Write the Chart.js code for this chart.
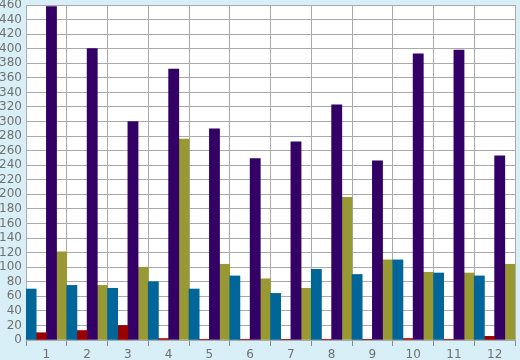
<!DOCTYPE html>
<html>
<head>
<meta charset="utf-8">
<script src="https://cdn.jsdelivr.net/npm/chart.js@4/dist/chart.umd.min.js"></script>
<style>
  html, body { margin: 0; padding: 0; background: #d9eff7; }
  #wrap { width: 520px; height: 360px; }
</style>
</head>
<body>
<div id="wrap"><canvas id="c" width="520" height="360"></canvas></div>
<script>
const categories = ["1","2","3","4","5","6","7","8","9","10","11","12"];
const seriesBlue   = [70, 75, 71, 80, 70, 88, 64, 97, 90, 110, 92, 88];
const seriesRed    = [10, 13, 20, 2, 1, 1, 1, 1, 1, 2, 1, 5];
const seriesPurple = [458, 400, 300, 372, 290, 249, 272, 323, 246, 393, 398, 253];
const seriesOlive  = [121, 75, 100, 276, 104, 84, 71, 196, 110, 93, 92, 104];
const yMin = 0, yMax = 460, yStep = 20;

const plotBg = {
  id: 'plotBg',
  beforeDraw(chart) {
    const {ctx, chartArea: a} = chart;
    ctx.save();
    ctx.fillStyle = '#ffffff';
    ctx.fillRect(a.left, a.top, a.right - a.left, a.bottom - a.top);
    ctx.restore();
  }
};

Chart.defaults.font.family = '"DejaVu Sans", Verdana, sans-serif';
Chart.defaults.font.size = 12;
Chart.defaults.color = '#707070';

new Chart(document.getElementById('c'), {
  type: 'bar',
  data: {
    labels: categories,
    datasets: [
      { data: seriesBlue, backgroundColor: '#006699' },
      { data: seriesRed, backgroundColor: '#990000' },
      { data: seriesPurple, backgroundColor: '#330066' },
      { data: seriesOlive, backgroundColor: '#999933' }
    ]
  },
  options: {
    responsive: false,
    animation: false,
    events: [],
    layout: { padding: { top: 5, right: 5, left: 0, bottom: 0 } },
    datasets: { bar: { categoryPercentage: 1, barPercentage: 1, borderWidth: 0 } },
    plugins: { legend: { display: false }, tooltip: { enabled: false }, title: { display: false } },
    scales: {
      x: {
        grid: { color: '#aaaaaa', lineWidth: 1, offset: true, drawTicks: true, tickLength: 6, tickColor: '#888888' },
        border: { color: '#aaaaaa' },
        ticks: { padding: 2, color: '#707070', maxRotation: 0 },
        afterFit(s) { s.height = 20; }
      },
      y: {
        min: yMin, max: yMax,
        grid: { color: '#aaaaaa', lineWidth: 1, drawTicks: false },
        border: { color: '#aaaaaa' },
        ticks: { stepSize: yStep, padding: 4, color: '#707070', autoSkip: false },
        afterFit(s) { s.width = 26; s.paddingTop = 0; s.paddingBottom = 0; }
      }
    }
  },
  plugins: [plotBg]
});
</script>
</body>
</html>
